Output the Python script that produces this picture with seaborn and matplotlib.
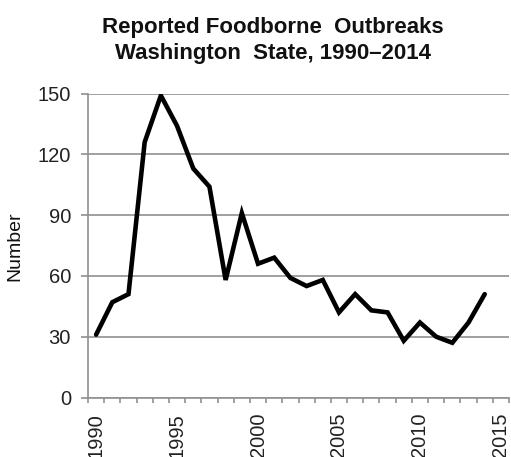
import matplotlib
matplotlib.use("Agg")
import matplotlib.pyplot as plt
import seaborn as sns
import pandas as pd

years = list(range(1990, 2015))
outbreaks = [31, 47, 51, 126, 149, 134, 113, 104, 58, 91, 66, 69, 59, 55, 58,
             42, 51, 43, 42, 28, 37, 30, 27, 37, 51]
x_labels = ["1990", "1995", "2000", "2005", "2010", "2015"]
y_ticks = [0, 30, 60, 90, 120, 150]

sns.set_theme(style="white")
plt.rcParams['font.family'] = ['Liberation Sans', 'DejaVu Sans']

df = pd.DataFrame({"idx": [y - 1990 for y in years], "value": outbreaks})

fig = plt.figure(figsize=(5.11, 4.57), dpi=100)
ax = fig.add_axes([88/511, 1 - 397.5/457, (509-88)/511, (397.5-93.5)/457])
sns.lineplot(data=df, x="idx", y="value", ax=ax, color="black", linewidth=3.3,
             solid_joinstyle="miter")

ax.set_xlim(-0.5, 25.5)
ax.set_ylim(0, 150)
ax.set_yticks(y_ticks)
ax.set_yticklabels([str(v) for v in y_ticks], fontsize=14.5, color="#222222")
ax.yaxis.grid(True, color="#909090", linewidth=1.2)
ax.set_axisbelow(True)

# category boundary ticks (major, unlabeled), labels at category centres (minor)
ax.set_xticks([i - 0.5 for i in range(27)])
ax.set_xticklabels([])
ax.set_xticks([0, 5, 10, 15, 20, 25], minor=True)
ax.set_xticklabels(x_labels, minor=True, rotation=90, fontsize=14.5, color="#222222",
                   va="top")
ax.tick_params(axis="x", which="major", length=3.6, color="#909090", width=1.2, direction="out", bottom=True)
ax.tick_params(axis="x", which="minor", length=0, pad=11, bottom=True)
ax.tick_params(axis="y", length=4.7, color="#909090", width=1.2, left=True, pad=7.5)

for s in ["top", "right"]:
    ax.spines[s].set_visible(False)
for s in ["left", "bottom"]:
    ax.spines[s].set_color("#909090")
    ax.spines[s].set_linewidth(1.2)

ax.set_xlabel("")
ax.set_ylabel("")
fig.text(15/511, 1 - 246/457, "Number", rotation=90, ha="center", va="center",
         fontsize=14, color="#111111")

fig.text(273/511, 1 - 33/457, "Reported Foodborne  Outbreaks", ha="center", va="baseline",
         fontsize=16, fontweight="bold", color="#111111")
fig.text(273/511, 1 - 59.5/457, "Washington  State, 1990\u20132014", ha="center", va="baseline",
         fontsize=16, fontweight="bold", color="#111111")

fig.savefig("out.png", dpi=100, facecolor="white")
